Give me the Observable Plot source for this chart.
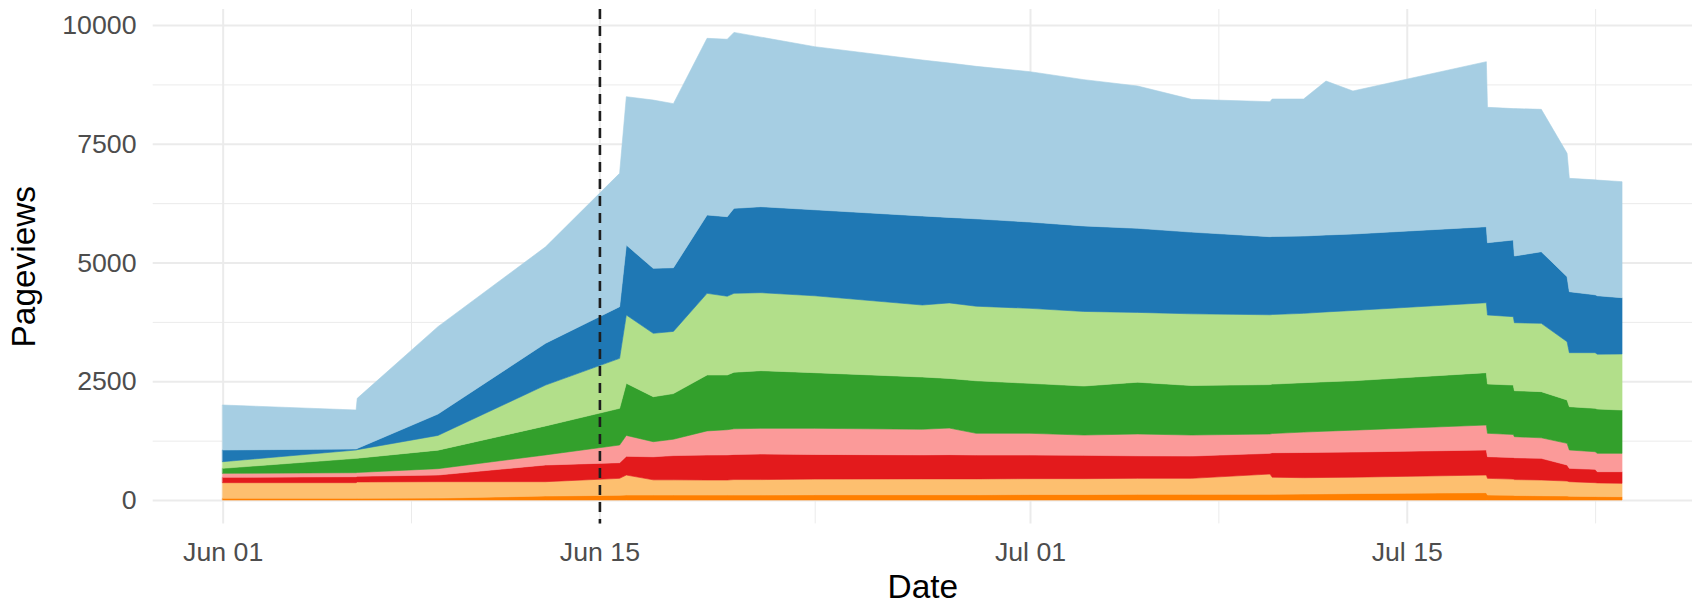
<!DOCTYPE html>
<html>
<head>
<meta charset="utf-8">
<script src="https://cdn.jsdelivr.net/npm/d3@7"></script>
<script src="https://cdn.jsdelivr.net/npm/@observablehq/plot@0.6"></script>
<style>
  html, body { margin: 0; padding: 0; background: #ffffff; }
  #chart { width: 1692px; height: 604px; overflow: hidden; }
</style>
</head>
<body>
<div id="chart"></div>
<script>
// ---- data ----
const dates = [
  "2018-06-01T00:00", "2018-06-05T23:00", "2018-06-06T00:00", "2018-06-09T00:00",
  "2018-06-13T00:00", "2018-06-15T18:00", "2018-06-16T00:00", "2018-06-17T00:00",
  "2018-06-17T18:00", "2018-06-19T00:00", "2018-06-19T18:00", "2018-06-20T00:00",
  "2018-06-21T00:00", "2018-06-23T00:00", "2018-06-27T00:00", "2018-06-28T00:00",
  "2018-06-29T00:00", "2018-07-01T00:00", "2018-07-03T00:00", "2018-07-05T00:00",
  "2018-07-07T00:00", "2018-07-09T22:00", "2018-07-10T00:00", "2018-07-11T04:00",
  "2018-07-12T00:00", "2018-07-13T00:00", "2018-07-17T23:00", "2018-07-18T00:00",
  "2018-07-18T23:00", "2018-07-19T00:00", "2018-07-20T00:00", "2018-07-20T23:00",
  "2018-07-21T01:00", "2018-07-22T00:00", "2018-07-22T02:00", "2018-07-23T00:00"
];

// series listed from the bottom of the stack to the top
const seriesNames = ["Page H", "Page G", "Page F", "Page E", "Page D", "Page C", "Page B", "Page A"];

const pageH = [35, 35, 35, 40, 84, 100, 105, 105, 105, 105, 105, 105, 105, 110, 110, 110, 110, 115, 115, 119, 119, 120, 122, 125, 130, 135, 154, 105, 100, 95, 90, 85, 80, 75, 72, 70];
const pageG = [330, 330, 345, 346, 302, 356, 421, 320, 320, 316, 316, 325, 325, 330, 335, 335, 335, 335, 335, 337, 337, 427, 358, 345, 345, 345, 372, 351, 340, 335, 331, 315, 306, 290, 288, 281];
const pageF = [112, 126, 120, 140, 351, 330, 394, 485, 510, 526, 529, 530, 538, 520, 505, 510, 502, 497, 490, 474, 470, 435, 516, 530, 530, 530, 527, 456, 455, 460, 456, 337, 281, 281, 236, 245];
const pageE = [84, 84, 80, 134, 213, 372, 440, 318, 345, 508, 530, 540, 541, 549, 540, 560, 457, 457, 428, 460, 442, 408, 404, 430, 445, 460, 526, 492, 485, 443, 433, 456, 386, 371, 386, 386];
const pageD = [106, 302, 300, 390, 610, 772, 1096, 947, 960, 1177, 1152, 1190, 1214, 1171, 1100, 1045, 1106, 1052, 1032, 1090, 1042, 1040, 1040, 1040, 1040, 1040, 1102, 1038, 1041, 969, 971, 912, 912, 913, 933, 913];
const pageC = [140, 176, 180, 310, 860, 1052, 1439, 1334, 1310, 1719, 1658, 1661, 1642, 1620, 1515, 1590, 1570, 1579, 1570, 1470, 1510, 1470, 1465, 1460, 1470, 1480, 1473, 1453, 1439, 1431, 1438, 1228, 1137, 1172, 1155, 1179];
const pageB = [246, 21, 25, 450, 880, 1088, 1473, 1368, 1340, 1649, 1675, 1789, 1810, 1810, 1875, 1800, 1840, 1817, 1800, 1770, 1720, 1644, 1643, 1628, 1620, 1610, 1600, 1522, 1614, 1404, 1509, 1368, 1284, 1218, 1230, 1185];
const pageA = [947, 821, 1055, 1840, 2030, 2807, 3123, 3543, 3455, 3720, 3735, 3705, 3570, 3434, 3283, 3250, 3210, 3165, 3080, 2996, 2795, 2842, 2894, 2884, 3241, 3011, 3474, 2850, 2766, 3103, 2997, 2597, 2386, 2420, 2435, 2443];

const seriesValues = [pageH, pageG, pageF, pageE, pageD, pageC, pageB, pageA];
const seriesColors = ["#FF7F00", "#FDBF6F", "#E31A1C", "#FB9A99", "#33A02C", "#B2DF8A", "#1F78B4", "#A6CEE3"];

const xTickDates = ["2018-06-01", "2018-06-15", "2018-07-01", "2018-07-15"];
const xMinorDates = ["2018-06-08", "2018-06-23", "2018-07-08", "2018-07-22"];
const yTicks = [0, 2500, 5000, 7500, 10000];
const yMinorTicks = [1250, 3750, 6250, 8750];
const markerDate = "2018-06-15";
const xTitle = "Date";
const yTitle = "Pageviews";

// ---- build table ----
const parse = s => new Date(s.length === 10 ? s + "T00:00:00Z" : s + ":00Z");
const table = [];
seriesNames.forEach((name, i) => {
  dates.forEach((d, j) => table.push({date: parse(d), series: name, value: seriesValues[i][j]}));
});

const t0 = parse(dates[0]).getTime();
const t1 = parse(dates[dates.length - 1]).getTime();
const xPad = (t1 - t0) * 0.05;
const totals = dates.map((d, j) => d3.sum(seriesValues, v => v[j]));
const yMax = d3.max(totals);
const yPad = yMax * 0.05;

const font = "'Liberation Sans', Arial, Helvetica, sans-serif";
const grid = "#ebebeb";

const chart = Plot.plot({
  width: 1692,
  height: 604,
  marginLeft: 152.7,
  marginRight: 0,
  marginTop: 9,
  marginBottom: 80.6,
  x: {type: "utc", domain: [new Date(t0 - xPad), new Date(t1 + xPad)]},
  y: {domain: [-yPad, yMax + yPad]},
  color: {domain: seriesNames, range: seriesColors},
  style: {fontFamily: font, fontSize: "26.7px", background: "#ffffff", color: "#000000"},
  marks: [
    Plot.gridY({ticks: yMinorTicks, stroke: grid, strokeOpacity: 1, strokeWidth: 1}),
    Plot.gridX({ticks: xMinorDates.map(parse), stroke: grid, strokeOpacity: 1, strokeWidth: 1}),
    Plot.gridY({ticks: yTicks, stroke: grid, strokeOpacity: 1, strokeWidth: 2}),
    Plot.gridX({ticks: xTickDates.map(parse), stroke: grid, strokeOpacity: 1, strokeWidth: 2}),
    Plot.areaY(table, {x: "date", y: "value", fill: "series", stroke: "series", strokeWidth: 0.6, curve: "linear"}),
    Plot.ruleX([parse(markerDate)], {stroke: "#1e1e1e", strokeWidth: 2.6, strokeDasharray: "10,7"}),
    Plot.axisY({ticks: yTicks, tickSize: 0, tickPadding: 16.7, tickFormat: d => String(d), color: "#4d4d4d", label: null}),
    Plot.axisX({ticks: xTickDates.map(parse), tickSize: 0, tickPadding: 18, tickFormat: d3.utcFormat("%b %d"), color: "#4d4d4d", label: null}),
    Plot.text([yTitle], {frameAnchor: "left", textAnchor: "middle", lineAnchor: "middle", rotate: -90, dx: -128.7, fontSize: 33.4, fill: "#000000"}),
    Plot.text([xTitle], {frameAnchor: "bottom", textAnchor: "middle", lineAnchor: "middle", dy: 63, fontSize: 33.4, fill: "#000000"})
  ]
});

document.getElementById("chart").appendChild(chart);
</script>
</body>
</html>
